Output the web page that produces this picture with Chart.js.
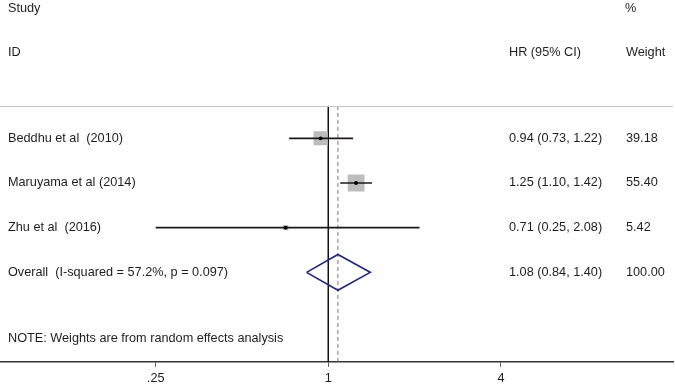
<!DOCTYPE html>
<html>
<head>
<meta charset="utf-8">
<script src="https://cdn.jsdelivr.net/npm/chart.js@4/dist/chart.umd.min.js"></script>
<style>
  body { margin: 0; background: #fff; }
  canvas { display: block; }
</style>
</head>
<body>
<canvas id="forest" width="675" height="384"></canvas>
<script>
// study data
const studies = ["Beddhu et al  (2010)", "Maruyama et al (2014)", "Zhu et al  (2016)"];
const hr = [0.94, 1.25, 0.71];
const lower = [0.73, 1.10, 0.25];
const upper = [1.22, 1.42, 2.08];
const weights = [39.18, 55.40, 5.42];
const ciText = ["0.94 (0.73, 1.22)", "1.25 (1.10, 1.42)", "0.71 (0.25, 2.08)"];
const weightText = ["39.18", "55.40", "5.42"];

const overallLabel = "Overall  (I-squared = 57.2%, p = 0.097)";
const overall = { hr: 1.08, lower: 0.84, upper: 1.40 };
const overallCi = "1.08 (0.84, 1.40)";
const overallWeight = "100.00";

const tickValues = [0.25, 1, 4];
const tickLabels = [".25", "1", "4"];

const FAMILY = "'Liberation Sans', Arial, sans-serif";
const FONT = "12.7px " + FAMILY;
const TEXT = "#1e1e1e";
const OVERALL_ROW = studies.length;
const AXIS_ROW = studies.length + 2;
const SEP_ROW = -0.724;

const ciSets = studies.map((s, i) => ({
  type: "line",
  data: [{ x: lower[i], y: i }, { x: upper[i], y: i }],
  borderColor: "#1a1a1a",
  borderWidth: 1.7,
  pointRadius: 0,
  order: 2
}));

const boxSet = {
  type: "scatter",
  data: hr.map((v, i) => ({ x: v, y: i })),
  pointStyle: "rect",
  pointRadius: weights.map(w => 1.6 * Math.sqrt(w)),
  backgroundColor: "#bdbdbd",
  borderWidth: 0,
  order: 3
};

const dotSet = {
  type: "scatter",
  data: hr.map((v, i) => ({ x: v, y: i })),
  pointRadius: 1.9,
  backgroundColor: "#000",
  borderWidth: 0,
  order: 1
};

const diamondSet = {
  type: "line",
  data: [
    { x: overall.lower, y: OVERALL_ROW },
    { x: overall.hr, y: OVERALL_ROW - 0.4 },
    { x: overall.upper, y: OVERALL_ROW },
    { x: overall.hr, y: OVERALL_ROW + 0.4 },
    { x: overall.lower, y: OVERALL_ROW }
  ],
  borderColor: "#1f2a78",
  borderWidth: 1.7,
  pointRadius: 0,
  tension: 0,
  order: 1
};

const nullLine = {
  type: "line",
  data: [{ x: 1, y: SEP_ROW }, { x: 1, y: AXIS_ROW }],
  borderColor: "#111",
  borderWidth: 1,
  pointRadius: 0,
  order: 4
};

const overallLine = {
  type: "line",
  data: [{ x: overall.hr, y: SEP_ROW }, { x: overall.hr, y: AXIS_ROW }],
  borderColor: "#9a6a6a",
  borderWidth: 1,
  borderDash: [4, 3],
  pointRadius: 0,
  order: 4
};

const textPlugin = {
  id: "forestText",
  afterDraw(chart) {
    const { ctx, chartArea, scales } = chart;
    const y = scales.y;
    ctx.save();
    ctx.font = FONT;
    ctx.fillStyle = TEXT;
    ctx.textBaseline = "middle";
    ctx.textAlign = "left";

    ctx.fillText("Study", 8, 8);
    ctx.fillText("%", 625, 8);
    ctx.fillText("ID", 8, 52);
    ctx.fillText("HR (95% CI)", 509, 52);
    ctx.fillText("Weight", 626, 52);

    studies.forEach((s, i) => {
      const py = y.getPixelForValue(i);
      ctx.fillText(s, 8, py);
      ctx.fillText(ciText[i], 509, py);
      ctx.fillText(weightText[i], 626, py);
    });
    const po = y.getPixelForValue(OVERALL_ROW);
    ctx.fillText(overallLabel, 8, po);
    ctx.fillText(overallCi, 509, po);
    ctx.fillText(overallWeight, 626, po);

    ctx.fillText("NOTE: Weights are from random effects analysis", 8, 338);

    // separator under the header
    const sy = Math.round(y.getPixelForValue(SEP_ROW)) + 0.5;
    ctx.strokeStyle = "#c4c4c4";
    ctx.lineWidth = 1;
    ctx.beginPath();
    ctx.moveTo(chartArea.left, sy);
    ctx.lineTo(chartArea.right, sy);
    ctx.stroke();
    ctx.restore();
  }
};

new Chart(document.getElementById("forest"), {
  type: "scatter",
  data: {
    datasets: [...ciSets, boxSet, dotSet, diamondSet, nullLine, overallLine]
  },
  options: {
    responsive: false,
    animation: false,
    layout: { autoPadding: false, padding: { left: 0, right: 2, top: 0, bottom: -6 } },
    plugins: {
      legend: { display: false },
      tooltip: { enabled: false }
    },
    scales: {
      x: {
        type: "logarithmic",
        min: 0.0716,
        max: 15.93,
        afterBuildTicks: scale => {
          scale.ticks = tickValues.map(v => ({ value: v }));
        },
        ticks: {
          autoSkip: false,
          maxRotation: 0,
          padding: 4,
          color: TEXT,
          font: { family: FAMILY, size: 12.7 },
          callback: value => tickLabels[tickValues.indexOf(value)] ?? ""
        },
        grid: {
          drawOnChartArea: false,
          drawTicks: true,
          tickLength: 5,
          color: "#555"
        },
        border: { display: true, color: "#333", width: 1.5 }
      },
      y: {
        type: "linear",
        display: false,
        reverse: true,
        min: -3.094,
        max: AXIS_ROW
      }
    }
  },
  plugins: [textPlugin]
});
</script>
</body>
</html>
